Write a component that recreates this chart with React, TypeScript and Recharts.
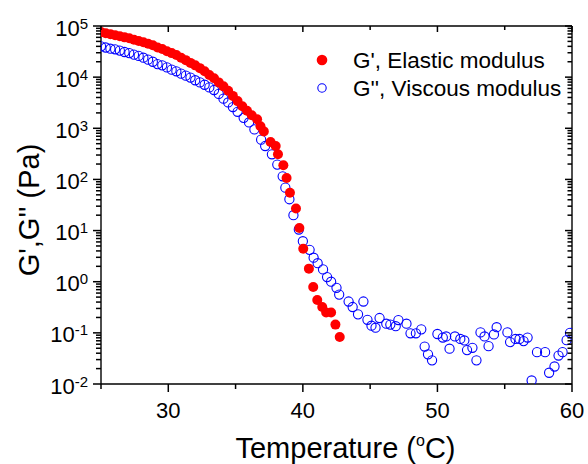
import React from 'react';
import { ScatterChart, Scatter, XAxis, YAxis, ReferenceLine } from 'recharts';

// G' (elastic modulus), Pa
const elasticT = [
  25.0, 25.35, 25.7, 26.05, 26.4, 26.75, 27.1, 27.45, 27.8, 28.15, 28.5, 28.85, 29.2, 29.55, 29.9,
  30.25, 30.6, 30.95, 31.3, 31.65, 32.0, 32.35, 32.7, 33.05, 33.4, 33.75, 34.1, 34.45, 34.8, 35.15,
  35.5, 35.85, 36.2, 36.6, 36.85, 37.1, 37.6, 37.98, 38.15, 38.55, 38.79, 39.04, 39.49, 39.74, 40.03,
  40.45, 40.77, 41.07, 41.44, 41.73, 42.1, 42.42, 42.74,
];
const elasticG = [
  7.6e4, 7.2e4, 6.9e4, 6.6e4, 6.3e4, 6.0e4, 5.75e4, 5.4e4, 5.1e4, 4.8e4, 4.5e4, 4.2e4, 3.8e4, 3.55e4, 3.2e4,
  2.95e4, 2.7e4, 2.4e4, 2.15e4, 1.9e4, 1.7e4, 1.5e4, 1.3e4, 1.1e4, 9.5e3, 7.9e3, 6.6e3, 5.4e3, 4.3e3, 3.4e3,
  2.7e3, 2.2e3, 1.8e3, 1.5e3, 1.1e3, 870, 540, 450, 310, 190, 107, 55, 27, 11.2, 4.4,
  1.8, 0.79, 0.44, 0.32, 0.25, 0.25, 0.145, 0.083,
];

// G'' (viscous modulus), Pa
const viscousT = [
  25.0, 25.35, 25.7, 26.05, 26.4, 26.75, 27.1, 27.45, 27.8, 28.15, 28.5, 28.85, 29.2, 29.55, 29.9,
  30.25, 30.6, 30.95, 31.3, 31.65, 32.0, 32.35, 32.7, 33.05, 33.4, 33.75, 34.1, 34.45, 34.8, 35.15,
  35.6, 36.0, 36.4, 36.9, 37.2, 37.7, 38.1, 38.5, 38.7, 39.0, 39.3, 39.7, 40.0, 40.5, 40.8,
  41.1, 41.5, 41.8, 42.1, 42.5, 42.7, 43.4, 43.7, 44.1, 44.5, 44.8, 45.1, 45.4, 45.7, 46.2,
  46.5, 46.9, 47.1, 47.7, 48.0, 48.4, 48.8, 49.05, 49.3, 49.6, 50.0, 50.4, 50.65, 50.9, 51.3,
  51.7, 52.0, 52.2, 52.6, 52.9, 53.2, 53.5, 53.8, 54.2, 54.4, 55.2, 55.4, 55.8, 56.1, 56.4,
  56.7, 57.0, 57.4, 58.0, 58.3, 58.7, 59.0, 59.3, 59.6, 59.85,
];
const viscousG = [
  4.0e4, 3.8e4, 3.6e4, 3.5e4, 3.3e4, 3.1e4, 2.95e4, 2.75e4, 2.6e4, 2.4e4, 2.2e4, 2.0e4, 1.8e4, 1.7e4, 1.55e4,
  1.4e4, 1.3e4, 1.17e4, 1.07e4, 9.8e3, 8.7e3, 7.9e3, 7.1e3, 6.3e3, 5.6e3, 4.7e3, 3.8e3, 3.2e3, 2.6e3, 2.1e3,
  1.6e3, 1.3e3, 950, 600, 450, 310, 195, 115, 69, 41, 20, 10.5, 6.2, 4.2, 2.95,
  2.3, 1.74, 1.23, 1.0, 0.76, 0.56, 0.41, 0.32, 0.23, 0.41, 0.18, 0.138, 0.126, 0.195, 0.151,
  0.145, 0.135, 0.178, 0.151, 0.098, 0.098, 0.117, 0.054, 0.038, 0.029, 0.095, 0.081, 0.085, 0.049, 0.085,
  0.076, 0.071, 0.046, 0.051, 0.029, 0.102, 0.085, 0.055, 0.093, 0.129, 0.102, 0.066, 0.076, 0.076, 0.069,
  0.081, 0.0117, 0.042, 0.042, 0.0166, 0.022, 0.036, 0.042, 0.072, 0.1,
];

const xTicks = [25, 30, 35, 40, 45, 50, 55, 60];
const xLabeledTicks = [30, 40, 50, 60];
const yExponents = [-2, -1, 0, 1, 2, 3, 4, 5];
const minorMultipliers = [2, 3, 4, 5, 6, 7, 8, 9];

const xTitle = 'Temperature (';
const yTitle = "G',G'' (Pa)";
const legendNames = ["G', Elastic modulus", "G'', Viscous modulus"];

const FONT = '"Liberation Sans", Arial, Helvetica, sans-serif';
const RED = '#ff0000';
const BLUE = '#0000ff';
const TW = 1.5;

const CHART_W = 588;
const CHART_H = 464;
const MARGIN = { top: 26, right: 16, bottom: 0, left: 0 };
const Y_AXIS_W = 101;
const X_AXIS_H = 80;
const PLOT_W = CHART_W - MARGIN.left - MARGIN.right - Y_AXIS_W;
const PLOT_H = CHART_H - MARGIN.top - MARGIN.bottom - X_AXIS_H;

const elasticData = elasticT.map((t, i) => ({ t, g: elasticG[i] }));
const viscousData = viscousT.map((t, i) => ({ t, g: viscousG[i] }));

const yTicks: number[] = [];
yExponents.forEach((e) => {
  yTicks.push(Math.pow(10, e));
  if (e < 5) minorMultipliers.forEach((k) => yTicks.push(k * Math.pow(10, e)));
});

const isMajorY = (v: number) => {
  const e = Math.log10(v);
  return Math.abs(e - Math.round(e)) < 1e-6;
};

// left axis tick: outward tick + label, plus the mirrored inward tick on the right frame
const LeftTick = (props: any) => {
  const { x, y, payload } = props;
  const v = payload.value;
  const major = isMajorY(v);
  const e = Math.round(Math.log10(v));
  const right = x + PLOT_W;
  return (
    <g>
      <line x1={x} x2={x - (major ? 8 : 5)} y1={y} y2={y} stroke="#000" strokeWidth={TW} />
      <line x1={right} x2={right - (major ? 7 : 4.5)} y1={y} y2={y} stroke="#000" strokeWidth={TW} />
      {major && (
        <text x={x - 13} y={y + 9.5} textAnchor="end" fontSize={22} fontFamily={FONT} fill="#000" stroke="none">
          10
          <tspan dy={-7} fontSize={15}>{e}</tspan>
        </text>
      )}
    </g>
  );
};

// bottom axis tick: outward tick + label, plus the mirrored inward tick on the top frame
const BottomTick = (props: any) => {
  const { x, y, payload } = props;
  const v = payload.value;
  const labeled = xLabeledTicks.includes(v);
  const top = y - PLOT_H;
  return (
    <g>
      <line x1={x} x2={x} y1={y} y2={y + (labeled ? 8 : 5)} stroke="#000" strokeWidth={TW} />
      <line x1={x} x2={x} y1={top} y2={top + (labeled ? 6 : 4)} stroke="#000" strokeWidth={TW} />
      {labeled && (
        <text x={x} y={y + 33.5} textAnchor="middle" fontSize={22} fontFamily={FONT} fill="#000" stroke="none">
          {v}
        </text>
      )}
    </g>
  );
};

// x title plus the legend (drawn inside the svg)
const XTitleAndLegend = (props: any) => {
  const vb = props.viewBox || { x: 101, y: 384, width: 471, height: 80 };
  const plotTop = vb.y - PLOT_H;
  const lx = vb.x + 221;
  return (
    <g>
      <text x={vb.x + vb.width / 2 + 9} y={vb.y + 74} textAnchor="middle" fontSize={29} fontFamily={FONT} fill="#000">
        {xTitle}
        <tspan dy={-12} fontSize={16}>o</tspan>
        <tspan dy={12}>C)</tspan>
      </text>
      <circle cx={lx} cy={plotTop + 34} r={5.3} fill={RED} />
      <text x={lx + 31} y={plotTop + 42.3} fontSize={22.5} fontFamily={FONT} fill="#000">{legendNames[0]}</text>
      <circle cx={lx} cy={plotTop + 62} r={4.2} fill="none" stroke={BLUE} strokeWidth={1.1} />
      <text x={lx + 31} y={plotTop + 69.5} fontSize={22.5} fontFamily={FONT} fill="#000">{legendNames[1]}</text>
    </g>
  );
};

const YTitle = (props: any) => {
  const vb = props.viewBox || { x: 0, y: 26, width: 101, height: 358 };
  const cx = vb.x + 38.5;
  const cy = vb.y + vb.height / 2 + 5;
  return (
    <text x={cx} y={cy} transform={`rotate(-90, ${cx}, ${cy})`} textAnchor="middle" fontSize={29} fontFamily={FONT} fill="#000">
      {yTitle}
    </text>
  );
};

const RedDot = (p: any) => <circle cx={p.cx} cy={p.cy} r={5} fill={RED} />;
const BlueRing = (p: any) => (
  <circle cx={p.cx} cy={p.cy} r={4.6} fill="none" stroke={BLUE} strokeWidth={1.1} />
);

export default function App() {
  return (
    <div style={{ position: 'absolute', left: 0, top: 0, width: CHART_W, height: CHART_H }}>
      <ScatterChart width={CHART_W} height={CHART_H} margin={MARGIN}>
        <XAxis
          dataKey="t"
          type="number"
          domain={[25, 60]}
          allowDataOverflow
          ticks={xTicks}
          interval={0}
          height={X_AXIS_H}
          tickSize={0}
          tickMargin={0}
          tickLine={false}
          tick={<BottomTick />}
          axisLine={{ stroke: '#000', strokeWidth: 1.4 }}
          label={{ content: (p: any) => <XTitleAndLegend {...p} /> }}
        />
        <YAxis
          dataKey="g"
          type="number"
          scale="log"
          domain={[0.01, 100000]}
          allowDataOverflow
          ticks={yTicks}
          interval={0}
          width={Y_AXIS_W}
          tickSize={0}
          tickMargin={0}
          tickLine={false}
          tick={<LeftTick />}
          axisLine={{ stroke: '#000', strokeWidth: 1.4 }}
          label={{ content: (p: any) => <YTitle {...p} /> }}
        />
        <ReferenceLine y={100000} stroke="#000" strokeWidth={1.4} ifOverflow="visible" />
        <ReferenceLine x={60} stroke="#000" strokeWidth={1.4} ifOverflow="visible" />
        <Scatter
          name={legendNames[1]}
          data={viscousData}
          shape={BlueRing}
          isAnimationActive={false}
        />
        <Scatter
          name={legendNames[0]}
          data={elasticData}
          shape={RedDot}
          isAnimationActive={false}
        />
      </ScatterChart>
    </div>
  );
}
